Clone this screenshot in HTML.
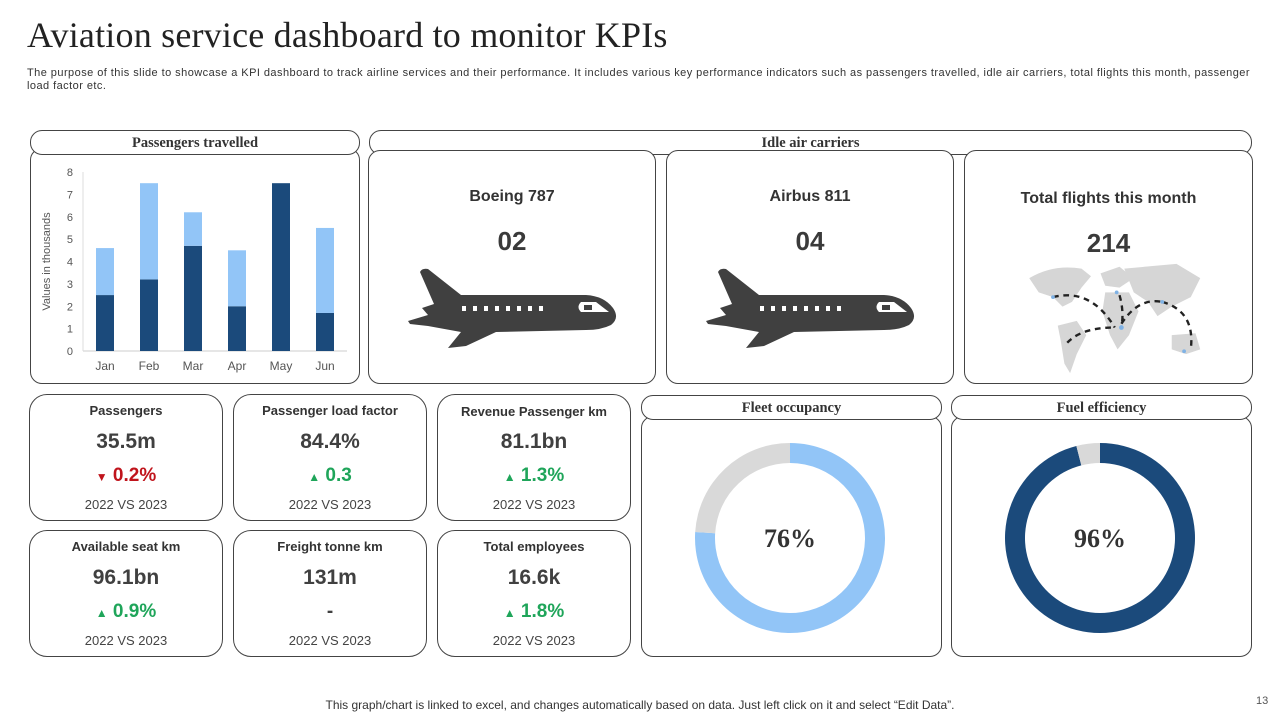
<!DOCTYPE html>
<html><head><meta charset="utf-8"><style>
*{box-sizing:border-box;margin:0;padding:0}
body{width:1280px;height:720px;background:#fff;position:relative;overflow:hidden;font-family:"Liberation Sans",Arial,sans-serif;color:#333}
.abs{position:absolute}
.hdr{position:absolute;border:1px solid #444;border-radius:12px;background:#fff;text-align:center;font-family:"Liberation Serif",serif;font-weight:bold;font-size:14.5px;color:#333;line-height:24px}
.box{position:absolute;border:1px solid #444;border-radius:12px;background:#fff}
.card{position:absolute;border:1px solid #444;border-radius:18px;width:194px;height:127px;text-align:center}
.card .t{position:absolute;top:8px;width:100%;font-size:13px;font-weight:bold;color:#333}
.card .v{position:absolute;top:35px;width:100%;font-size:21px;font-weight:bold;color:#404040}
.card .c{position:absolute;top:70px;width:100%;font-size:19px;font-weight:bold}
.card .y{position:absolute;top:102px;width:100%;font-size:13px;color:#444}
.up{color:#1fa55a}.dn{color:#c0141c}
.sm{font-size:12px}
.ic .n{position:absolute;width:100%;text-align:center;font-size:16px;font-weight:bold;color:#333}
.ic .b{position:absolute;width:100%;text-align:center;font-size:26px;font-weight:bold;color:#3a3a3a}
</style></head><body>
<div class="abs" style="left:27px;top:14px;font-family:'Liberation Serif',serif;font-size:36px;letter-spacing:0.2px;color:#222;white-space:nowrap">Aviation service dashboard to monitor KPIs</div>
<div class="abs" style="left:27px;top:67px;width:1232px;font-size:11px;line-height:13px;color:#333;letter-spacing:0.45px">The purpose of this slide to showcase a KPI dashboard to track airline services and their performance. It includes various key performance indicators such as passengers travelled, idle air carriers, total flights this month, passenger load factor etc.</div>

<div class="box" style="left:30px;top:148px;width:330px;height:236px"></div>
<div class="hdr" style="left:30px;top:130px;width:330px;height:25px">Passengers travelled</div>
<svg id="chart" class="abs" style="left:30px;top:156px" width="330" height="226"></svg>

<div class="hdr" style="left:369px;top:130px;width:883px;height:25px">Idle air carriers</div>

<div class="box ic" style="left:368px;top:150px;width:288px;height:234px">
<div class="n" style="top:37px">Boeing 787</div><div class="b" style="top:75px">02</div>
<svg class="abs" style="left:37px;top:117px" width="215" height="85"><use href="#plane"/></svg>
</div>
<div class="box ic" style="left:666px;top:150px;width:288px;height:234px">
<div class="n" style="top:37px">Airbus 811</div><div class="b" style="top:75px">04</div>
<svg class="abs" style="left:37px;top:117px" width="215" height="85"><use href="#plane"/></svg>
</div>
<div class="box ic" style="left:964px;top:150px;width:289px;height:234px">
<div class="n" style="top:39px">Total flights this month</div><div class="b" style="top:77px">214</div>
<svg class="abs" style="left:50px;top:105px" width="190" height="125" viewBox="0 0 200 125">
<g fill="#d6d6d6">
<path d="M15,20 Q40,5 70,10 L80,18 L70,30 L60,45 L50,50 L40,40 L25,35 Z"/>
<path d="M45,70 L65,65 L75,80 L65,100 L58,120 L52,110 L48,85 Z"/>
<path d="M90,15 L110,8 L125,20 L110,30 L95,28 Z"/>
<path d="M95,35 L120,35 L130,55 L120,80 L108,95 L100,80 L92,55 Z"/>
<path d="M115,10 L170,5 L195,20 L185,40 L165,50 L150,60 L140,45 L125,35 Z"/>
<path d="M165,80 L190,78 L195,95 L180,100 L165,95 Z"/>
</g>
<g fill="none" stroke="#222" stroke-width="2.5" stroke-dasharray="6,5">
<path d="M40,40 Q80,30 105,72"/><path d="M110,38 Q115,55 112,72"/><path d="M112,68 Q130,40 155,45"/>
<path d="M155,45 Q190,55 185,95"/><path d="M55,88 Q70,72 105,72"/></g>
<g fill="#7fb2e5"><circle cx="40" cy="40" r="2"/><circle cx="107" cy="35" r="2"/><circle cx="112" cy="72" r="2.5"/><circle cx="155" cy="45" r="2"/><circle cx="178" cy="97" r="2"/></g>
</svg>
</div>

<svg width="0" height="0" style="position:absolute"><defs><g id="plane">
<path fill="#404040" d="M2,53 L22,47 L16,40 L28,36 L14,4 Q16,0 22,1 L55,27 L180,27 Q198,28 207,40 Q214,50 205,57 Q195,62 180,62 L90,64 L60,78 L42,80 L55,64 L22,58 L4,56 Z"/>
<g fill="#fff"><rect x="56" y="38" width="4" height="5"/><rect x="67" y="38" width="4" height="5"/><rect x="78" y="38" width="4" height="5"/><rect x="89" y="38" width="4" height="5"/><rect x="100" y="38" width="4" height="5"/><rect x="111" y="38" width="4" height="5"/><rect x="122" y="38" width="4" height="5"/><rect x="133" y="38" width="4" height="5"/>
<path d="M175,34 L190,34 L203,44 L175,44 Q170,39 175,34 Z"/></g>
<path fill="#404040" d="M178,37 L186,37 L186,42 L178,42 Z"/>
</g></defs></svg>

<div class="card" style="left:29px;top:394px"><div class="t">Passengers</div><div class="v">35.5m</div><div class="c dn"><span class="sm">▼</span> 0.2%</div><div class="y">2022 VS 2023</div></div>
<div class="card" style="left:233px;top:394px"><div class="t">Passenger load factor</div><div class="v">84.4%</div><div class="c up"><span class="sm">▲</span> 0.3</div><div class="y">2022 VS 2023</div></div>
<div class="card" style="left:437px;top:394px"><div class="t" style="top:9px">Revenue Passenger km</div><div class="v">81.1bn</div><div class="c up"><span class="sm">▲</span> 1.3%</div><div class="y">2022 VS 2023</div></div>
<div class="card" style="left:29px;top:530px"><div class="t">Available seat km</div><div class="v">96.1bn</div><div class="c up"><span class="sm">▲</span> 0.9%</div><div class="y">2022 VS 2023</div></div>
<div class="card" style="left:233px;top:530px"><div class="t">Freight tonne km</div><div class="v">131m</div><div class="c" style="color:#404040">-</div><div class="y">2022 VS 2023</div></div>
<div class="card" style="left:437px;top:530px"><div class="t">Total employees</div><div class="v">16.6k</div><div class="c up"><span class="sm">▲</span> 1.8%</div><div class="y">2022 VS 2023</div></div>

<div class="box" style="left:641px;top:416px;width:301px;height:241px"></div>
<div class="hdr" style="left:641px;top:395px;width:301px;height:25px">Fleet occupancy</div>
<svg id="d1" class="abs" style="left:690px;top:438px" width="200" height="200"></svg>
<div class="box" style="left:951px;top:416px;width:301px;height:241px"></div>
<div class="hdr" style="left:951px;top:395px;width:301px;height:25px">Fuel efficiency</div>
<svg id="d2" class="abs" style="left:1000px;top:438px" width="200" height="200"></svg>

<div class="abs" style="left:0;top:698px;width:1280px;text-align:center;font-size:12px;color:#333">This graph/chart is linked to excel, and changes automatically based on data. Just left click on it and select “Edit Data”.</div>
<div class="abs" style="left:1256px;top:695px;font-size:11px;color:#555">13</div>

<script>
const months=["Jan","Feb","Mar","Apr","May","Jun"];
const darkVals=[2.5,3.2,4.7,2.0,7.5,1.7];
const lightVals=[2.1,4.3,1.5,2.5,0,3.8];
const yTicks=[0,1,2,3,4,5,6,7,8];
const fleetPct=76;
const fuelPct=96;
const NS="http://www.w3.org/2000/svg";
function mk(svg,tag,attrs){const e=document.createElementNS(NS,tag);for(const k in attrs)e.setAttribute(k,attrs[k]);svg.appendChild(e);return e;}
const svg=document.getElementById('chart');
const x0=53,x1=317,y0=195,yTop=16;
const ys=v=>y0-(v/8)*(y0-yTop);
const band=(x1-x0)/months.length;
const xs=i=>x0+band*(i+0.5);
mk(svg,'line',{x1:x0,y1:y0,x2:x1,y2:y0,stroke:'#ccc'});
mk(svg,'line',{x1:x0,y1:yTop,x2:x0,y2:y0,stroke:'#ddd'});
yTicks.forEach(t=>{const e=mk(svg,'text',{x:x0-10,y:ys(t)+4,'text-anchor':'end','font-size':11,fill:'#555'});e.textContent=t;

});
const yt=mk(svg,'text',{x:0,y:0,transform:'translate(20,'+((y0+yTop)/2)+') rotate(-90)','text-anchor':'middle','font-size':11,fill:'#555'});
yt.textContent='Values in thousands';


months.forEach((m,i)=>{
 const w=18,cx=xs(i);
 const d=mk(svg,'rect',{x:cx-w/2,y:ys(darkVals[i]),width:w,height:y0-ys(darkVals[i]),fill:'#1b4a7b'});
 
 
 const top=darkVals[i]+lightVals[i];
 const l=mk(svg,'rect',{x:cx-w/2,y:ys(top),width:w,height:ys(darkVals[i])-ys(top),fill:'#92c5f7'});
 
 
 const t=mk(svg,'text',{x:cx,y:y0+19,'text-anchor':'middle','font-size':12,fill:'#555'});t.textContent=m;
 
 
});
function donut(id,pct,col,rest){
 const s=document.getElementById(id);const cx=100,cy=100,R=95,r=75;
 function arc(a0,a1,c){const p=(a,rr)=>[cx+rr*Math.sin(a),cy-rr*Math.cos(a)];const lg=(a1-a0)>Math.PI?1:0;
  const [ax,ay]=p(a0,R),[bx,by]=p(a1,R),[cx2,cy2]=p(a1,r),[dx,dy]=p(a0,r);
  return mk(s,'path',{d:`M${ax},${ay} A${R},${R} 0 ${lg} 1 ${bx},${by} L${cx2},${cy2} A${r},${r} 0 ${lg} 0 ${dx},${dy} Z`,fill:c});}
 const a=pct/100*2*Math.PI;
 const s1=arc(0,a,col);
 const s2=arc(a,2*Math.PI-0.0001,rest);
 const t=mk(s,'text',{x:cx,y:cy+9,'text-anchor':'middle','font-size':26,'font-family':'Liberation Serif,serif','font-weight':'bold',fill:'#333'});t.textContent=pct+'%';
 
 
}
donut('d1',fleetPct,'#92c5f7','#d9d9d9');
donut('d2',fuelPct,'#1b4a7b','#d9d9d9');
</script>
</body></html>
